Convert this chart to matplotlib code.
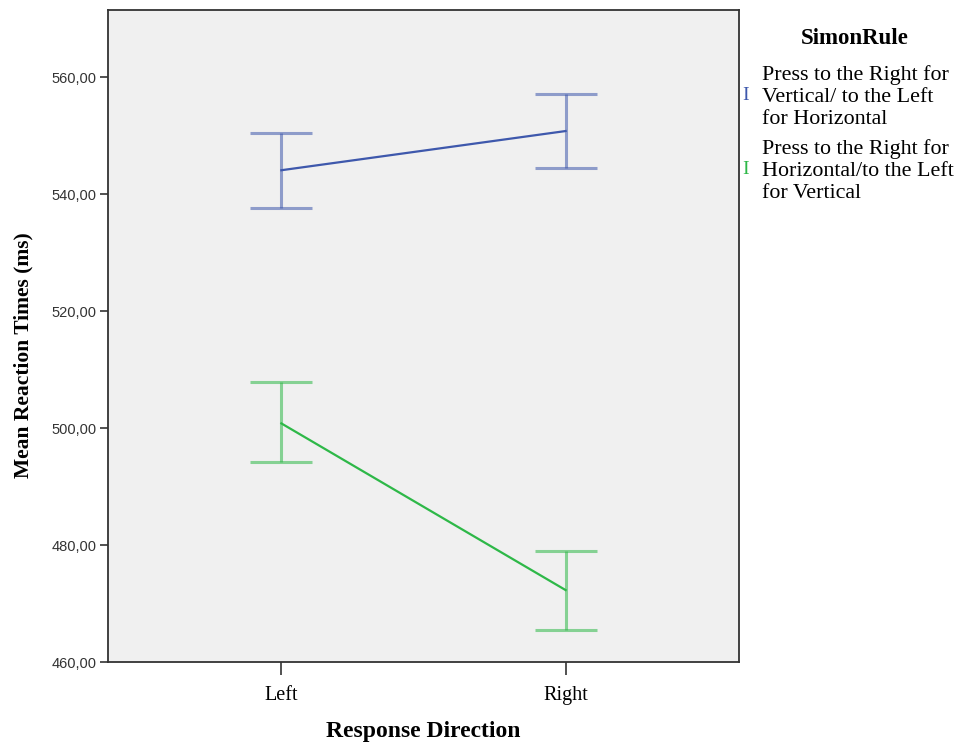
import matplotlib
matplotlib.use("Agg")
import matplotlib.pyplot as plt
from matplotlib.ticker import FuncFormatter

categories = ["Left", "Right"]
series_labels = [
    "Press to the Right for\nVertical/ to the Left\nfor Horizontal",
    "Press to the Right for\nHorizontal/to the Left\nfor Vertical",
]
means_vertical_right = [544.1, 550.8]
lower_vertical_right = [537.7, 544.4]
upper_vertical_right = [550.5, 557.1]
means_horizontal_right = [500.8, 472.3]
lower_horizontal_right = [494.2, 465.5]
upper_horizontal_right = [507.8, 478.9]
yticks = [460, 480, 500, 520, 540, 560]

colors = ["#3e58ac", "#2eb848"]

fig = plt.figure(figsize=(9.68, 7.44), dpi=100)
ax = fig.add_axes([108/968, 1-662/744, (739-108)/968, (662-10)/744])
ax.set_facecolor("#f0f0f0")

x = list(range(len(categories)))
series = [
    (means_vertical_right, lower_vertical_right, upper_vertical_right),
    (means_horizontal_right, lower_horizontal_right, upper_horizontal_right),
]
for (m, lo, hi), c in zip(series, colors):
    yerr = [[mi - l for mi, l in zip(m, lo)], [h - mi for mi, h in zip(m, hi)]]
    ax.errorbar(x, m, yerr=yerr, fmt="none", ecolor=c, elinewidth=2.2,
                capsize=22, capthick=2.2, alpha=0.55)
    ax.plot(x, m, color=c, linewidth=1.6)

ax.set_xlim(-0.61, 1.61)
ax.set_ylim(460, 571.5)
ax.set_xticks(x)
ax.set_xticklabels(categories, family="Liberation Serif", fontsize=14.5)
ax.set_yticks(yticks)
ax.yaxis.set_major_formatter(FuncFormatter(lambda v, p: f"{v:.2f}".replace(".", ",")))
for lab in ax.get_yticklabels():
    lab.set_family("Liberation Sans")
    lab.set_fontsize(10.5)
    lab.set_color("#333333")
ax.tick_params(axis="y", length=6, width=1.2, color="#333333", pad=2)
ax.tick_params(axis="x", length=9, width=1.2, color="#333333", pad=8)
for s in ax.spines.values():
    s.set_color("#333333")
    s.set_linewidth(1.3)

ax.set_xlabel("Response Direction", family="Liberation Serif", fontsize=17,
              fontweight="bold", labelpad=12)
ax.set_ylabel("Mean Reaction Times (ms)", family="Liberation Serif", fontsize=15.5,
              fontweight="bold")
ax.yaxis.set_label_coords(-0.118, 0.471)

# legend
fig.text(855/968, 1-38/744, "SimonRule", family="Liberation Serif", fontsize=16.5,
         fontweight="bold", ha="center", va="center")
ys = [97, 171]
for lab, c, yc in zip(series_labels, colors, ys):
    fig.text(746/968, 1-(yc-2)/744, "I", family="Liberation Serif", fontsize=14,
             color=c, ha="center", va="center")
    fig.text(762/968, 1-yc/744, lab, family="Liberation Serif", fontsize=15.8,
             ha="left", va="center", linespacing=1.2)

fig.savefig("out.png", dpi=100)
